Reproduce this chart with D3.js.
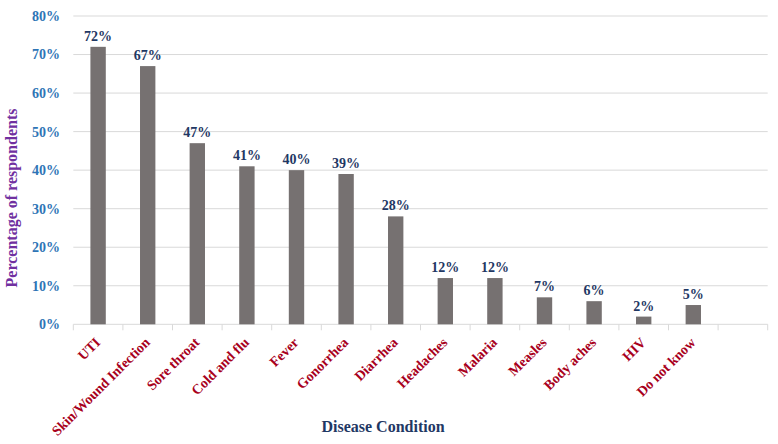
<!DOCTYPE html>
<html>
<head>
<meta charset="utf-8">
<script src="https://cdn.jsdelivr.net/npm/d3@7"></script>
<style>
html,body{margin:0;padding:0;background:#fff;}
svg{display:block;}
text{font-family:"Liberation Serif","Times New Roman",serif;font-weight:bold;}
</style>
</head>
<body>
<svg id="chart" width="778" height="444"></svg>
<script>
const categories = ["UTI","Skin/Wound Infection","Sore throat","Cold and flu","Fever","Gonorrhea","Diarrhea","Headaches","Malaria","Measles","Body aches","HIV","Do not know"];
const values = [72,67,47,41,40,39,28,12,12,7,6,2,5];
const yTicks = [0,10,20,30,40,50,60,70,80];

(function () {
const svg = d3.select("#chart");
const mLeft = 73.3, mRight = 767.7, mTop = 16, mBottom = 324.3;

// 14 slots: 13 categories plus one empty slot at the end
const slots = categories.concat([" "]);
const x = d3.scaleBand().domain(slots).range([mLeft, mRight]).paddingInner(0).paddingOuter(0);
const y = d3.scaleLinear().domain([0, 80]).range([mBottom, mTop]);

// gridlines
svg.append("g").selectAll("line").data(yTicks).join("line")
  .attr("x1", mLeft).attr("x2", mRight)
  .attr("y1", d => y(d)).attr("y2", d => y(d))
  .attr("stroke", "#d9d9d9").attr("stroke-width", 1);

// category boundary ticks
const bounds = slots.map(s => x(s)).concat([mRight]);
svg.append("g").selectAll("line").data(bounds).join("line")
  .attr("x1", d => d).attr("x2", d => d)
  .attr("y1", mBottom).attr("y2", mBottom + 6)
  .attr("stroke", "#d9d9d9").attr("stroke-width", 1);

// y tick labels
svg.append("g").selectAll("text").data(yTicks).join("text")
  .attr("x", 60).attr("y", d => y(d)).attr("dy", "0.35em")
  .attr("text-anchor", "end").attr("font-size", 14).attr("fill", "#2E75B6")
  .text(d => d + "%");

const bw = x.bandwidth() * 0.31;
// bars
svg.append("g").selectAll("rect").data(values).join("rect")
  .attr("x", (d, i) => x(categories[i]) + x.bandwidth() / 2 - bw / 2)
  .attr("width", bw)
  .attr("y", d => y(d))
  .attr("height", d => y(0) - y(d))
  .attr("fill", "#767171");

// value labels
svg.append("g").selectAll("text").data(values).join("text")
  .attr("x", (d, i) => x(categories[i]) + x.bandwidth() / 2)
  .attr("y", d => y(d) - 6)
  .attr("text-anchor", "middle").attr("font-size", 14).attr("fill", "#1F3864")
  .text(d => d + "%");

// x category labels
svg.append("g").selectAll("text").data(categories).join("text")
  .attr("transform", d => `translate(${x(d) + x.bandwidth() / 2 + 3},${mBottom + 19}) rotate(-45)`)
  .attr("text-anchor", "end").attr("font-size", 14).attr("fill", "#A8001C")
  .text(d => d);

// axis titles
svg.append("text")
  .attr("transform", `translate(17,198) rotate(-90)`)
  .attr("text-anchor", "middle").attr("font-size", 16).attr("fill", "#7030A0")
  .text("Percentage of respondents");

svg.append("text")
  .attr("x", 383).attr("y", 432)
  .attr("text-anchor", "middle").attr("font-size", 16).attr("fill", "#1F3864")
  .text("Disease Condition");
})();
</script>
</body>
</html>
